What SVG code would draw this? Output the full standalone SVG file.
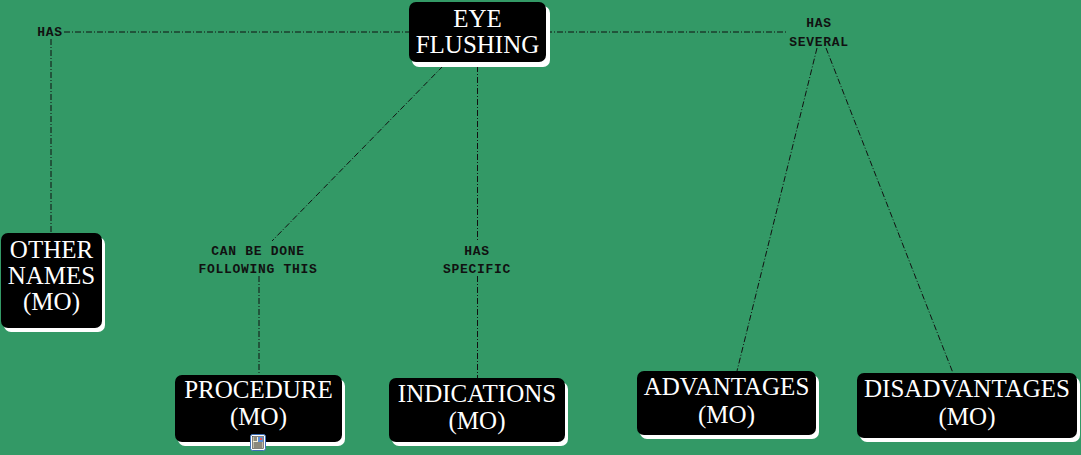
<svg xmlns="http://www.w3.org/2000/svg" width="1081" height="455" viewBox="0 0 1081 455">
<style>
.bg{fill:#339966}
.sh{fill:#ffffff}
.box{fill:#000000}
.nt{font-family:"Liberation Serif","Times New Roman",serif;font-size:25px;fill:#ffffff;text-anchor:middle}
.lb{font-family:"Liberation Mono","Courier New",monospace;font-size:13px;font-weight:bold;fill:#111111;text-anchor:middle;letter-spacing:0.7px}
.cn{fill:none;stroke:#111111;stroke-width:1;stroke-dasharray:6 2 1 2}
</style>
<rect class="bg" x="0" y="0" width="1081" height="455"/>
<g id="connectors">
<line class="cn" x1="64" y1="32" x2="409" y2="32"/>
<line class="cn" x1="51" y1="39" x2="51" y2="233"/>
<line class="cn" x1="546" y1="32" x2="787" y2="32"/>
<line class="cn" x1="817" y1="48" x2="737" y2="371"/>
<line class="cn" x1="826" y1="48" x2="953" y2="373"/>
<line class="cn" x1="443" y1="66" x2="272" y2="241"/>
<line class="cn" x1="259" y1="276" x2="259" y2="375"/>
<line class="cn" x1="477.5" y1="66" x2="477.5" y2="241"/>
<line class="cn" x1="477.5" y1="276" x2="477.5" y2="378"/>
</g>
<g id="labels">
<text class="lb" x="50" y="36">HAS</text>
<text class="lb" x="819" y="27">HAS</text>
<text class="lb" x="819" y="46">SEVERAL</text>
<text class="lb" x="258" y="255">CAN BE DONE</text>
<text class="lb" x="258" y="273">FOLLOWING THIS</text>
<text class="lb" x="477" y="255">HAS</text>
<text class="lb" x="477" y="273">SPECIFIC</text>
</g>
<g id="eye-flushing">
<rect class="sh" x="412" y="6" width="138" height="61" rx="7"/>
<rect class="box" x="409" y="2" width="137" height="60" rx="7"/>
<text class="nt" x="477.5" y="27">EYE</text>
<text class="nt" x="477.5" y="53">FLUSHING</text>
</g>
<g id="other-names">
<rect class="sh" x="4" y="237" width="101" height="95" rx="7"/>
<rect class="box" x="1" y="233" width="101" height="95" rx="7"/>
<text class="nt" x="51.5" y="258">OTHER</text>
<text class="nt" x="51.5" y="284">NAMES</text>
<text class="nt" x="51.5" y="310">(MO)</text>
</g>
<g id="procedure">
<rect class="sh" x="178" y="379" width="167" height="67" rx="7"/>
<rect class="box" x="175" y="375" width="167" height="67" rx="7"/>
<text class="nt" x="258.5" y="398">PROCEDURE</text>
<text class="nt" x="258.5" y="425">(MO)</text>
<g id="note-icon">
<rect x="250.5" y="434.5" width="15" height="16" rx="2" fill="#ffffff" stroke="#3b6fb8" stroke-width="1"/>
<rect x="252.5" y="436.5" width="11" height="12" fill="#f4f0d8" stroke="#333333" stroke-width="0.6"/>
<rect x="258" y="437" width="5" height="5" fill="#5b8ed6"/>
<rect x="260" y="438" width="2" height="2" fill="#e05050"/>
<line x1="253.5" y1="438" x2="257" y2="438" stroke="#222" stroke-width="1"/>
<line x1="253.5" y1="440" x2="257" y2="440" stroke="#222" stroke-width="1"/>
<line x1="253.5" y1="443" x2="262.5" y2="443" stroke="#222" stroke-width="1"/>
<line x1="253.5" y1="445" x2="262.5" y2="445" stroke="#222" stroke-width="1"/>
<line x1="253.5" y1="447" x2="262.5" y2="447" stroke="#222" stroke-width="1"/>
</g>
</g>
<g id="indications">
<rect class="sh" x="392" y="382" width="176" height="64" rx="7"/>
<rect class="box" x="389" y="378" width="176" height="64" rx="7"/>
<text class="nt" x="477" y="402">INDICATIONS</text>
<text class="nt" x="477" y="429">(MO)</text>
</g>
<g id="advantages">
<rect class="sh" x="640" y="375" width="179" height="64" rx="7"/>
<rect class="box" x="637" y="371" width="179" height="64" rx="7"/>
<text class="nt" x="726.5" y="395">ADVANTAGES</text>
<text class="nt" x="726.5" y="423">(MO)</text>
</g>
<g id="disadvantages">
<rect class="sh" x="860" y="377" width="220" height="65" rx="7"/>
<rect class="box" x="857" y="373" width="220" height="65" rx="7"/>
<text class="nt" x="967" y="397">DISADVANTAGES</text>
<text class="nt" x="967" y="425">(MO)</text>
</g>
</svg>
